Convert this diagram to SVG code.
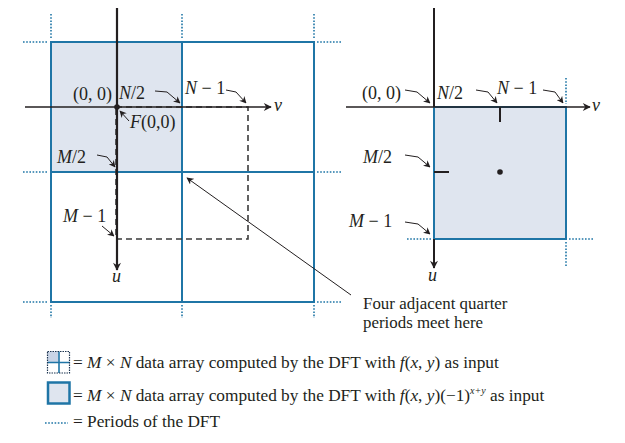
<svg xmlns="http://www.w3.org/2000/svg" width="625" height="443" viewBox="0 0 625 443">
<style>
text{font-family:"Liberation Serif","Times New Roman",serif;font-size:18px;fill:#231f20}
.i{font-style:italic}
.lg{font-size:17.3px}
.nt{font-size:16.9px}
.blue{fill:none;stroke:#1f75a6;stroke-width:2}
.dot{fill:none;stroke:#1f75a6;stroke-width:1.6;stroke-dasharray:1.6 1.6}
.lead{fill:none;stroke:#231f20;stroke-width:1;marker-end:url(#ah)}
.axis{fill:none;stroke:#231f20;marker-end:url(#ax)}
.dash{fill:none;stroke:#3a3a3a;stroke-width:1.6;stroke-dasharray:6 4}
</style>
<defs>
<marker id="ah" viewBox="0 0 10 10" refX="9" refY="5" markerWidth="7" markerHeight="7" markerUnits="userSpaceOnUse" orient="auto"><path d="M0,0 L10,5 L0,10 L3,5 z" fill="#231f20"/></marker>
<marker id="ax" viewBox="0 0 10 10" refX="9" refY="5" markerWidth="10" markerHeight="8" markerUnits="userSpaceOnUse" orient="auto"><path d="M0,0 L10,5 L0,10 L3,5 z" fill="#231f20"/></marker>
</defs>

<g id="left-figure">
<rect x="51" y="42" width="131" height="130" fill="#dfe5ef"/>
<rect class="blue" x="51" y="42" width="263" height="260"/>
<line class="blue" x1="182" y1="42" x2="182" y2="302"/>
<line class="blue" x1="51" y1="172" x2="314" y2="172"/>
<g id="left-periods">
<path class="dot" d="M23,42H48 M317,42H341 M23,172H48 M317,172H341 M23,302H48 M317,302H341"/>
<path class="dot" d="M51,14V38 M182,14V38 M314,14V38 M51,305V318 M182,305V318 M314,305V318"/>
</g>
<rect class="dash" x="116" y="107" width="132" height="132"/>
<line class="axis" x1="25" y1="107" x2="271" y2="107" stroke-width="1.3"/>
<line class="axis" x1="117" y1="8" x2="117" y2="270" stroke-width="2.2"/>
<circle cx="117" cy="107" r="2.8" fill="#231f20"/>
<text class="i" x="274" y="111">v</text>
<text class="i" x="112" y="282">u</text>
<text x="73" y="100">(0, 0)</text>
<text x="119" y="99"><tspan class="i">N</tspan>/2</text>
<text x="185" y="94"><tspan class="i">N</tspan> − 1</text>
<text x="130" y="128"><tspan class="i">F</tspan>(0,0)</text>
<text x="57" y="163"><tspan class="i">M</tspan>/2</text>
<text x="63" y="222"><tspan class="i">M</tspan> − 1</text>
</g>

<g id="right-figure">
<rect x="434" y="107" width="132" height="132" fill="#dfe5ef" stroke="#1f75a6" stroke-width="2"/>
<path class="dot" d="M566,78V104 M566,242V266 M407,239H432 M569,239H593"/>
<line class="axis" x1="346" y1="107" x2="590" y2="107" stroke-width="1.3"/>
<line x1="434" y1="8" x2="434" y2="107" stroke="#231f20" stroke-width="2"/>
<line class="axis" x1="434" y1="239" x2="434" y2="268" stroke-width="2"/>
<line x1="500" y1="107" x2="500" y2="122" stroke="#231f20" stroke-width="2"/>
<line x1="434" y1="172" x2="449" y2="172" stroke="#231f20" stroke-width="2"/>
<circle cx="500" cy="172" r="2.8" fill="#231f20"/>
<text class="i" x="592" y="111">v</text>
<text class="i" x="428" y="281">u</text>
<text x="362" y="99">(0, 0)</text>
<text x="437" y="99"><tspan class="i">N</tspan>/2</text>
<text x="497" y="94"><tspan class="i">N</tspan> − 1</text>
<text x="363" y="163"><tspan class="i">M</tspan>/2</text>
<text x="349" y="227"><tspan class="i">M</tspan> − 1</text>
</g>

<g id="note">
<text class="nt" x="363" y="309">Four adjacent quarter</text>
<text class="nt" x="363" y="328">periods meet here</text>
</g>

<g id="connectors">
<path class="lead" d="M155,91 L167,92 L180,103"/>
<path class="lead" d="M226,90 L236,92 L246,103"/>
<path class="lead" d="M129,121 L120,111"/>
<path class="lead" d="M97,155 L107,157 L115,167"/>
<path class="lead" d="M102,226 L114,236"/>
<path class="lead" d="M405,90 L417,92 L430,103"/>
<path class="lead" d="M476,90 L488,92 L497,103"/>
<path class="lead" d="M543,90 L555,92 L563,103"/>
<path class="lead" d="M405,155 L418,157 L430,167"/>
<path class="lead" d="M405,222 L418,224 L430,234"/>
<path class="lead" d="M351,295 L187,178"/>
</g>

<g id="legend">
<rect x="47.5" y="351.5" width="11" height="11" fill="#c9d4e6"/>
<path d="M59,351.5V373 M47.5,362.5H70" stroke="#1f75a6" stroke-width="1.6" fill="none"/>
<rect x="47.5" y="351.5" width="22" height="21.5" fill="none" stroke="#1d3550" stroke-width="1.2" stroke-dasharray="1.5 1"/>
<rect x="48" y="382.5" width="21.5" height="21" fill="#dfe5ef" stroke="#1f75a6" stroke-width="2.5"/>
<line class="dot" x1="45" y1="423" x2="68" y2="423"/>
<text class="lg" x="73" y="368">= <tspan class="i">M</tspan> × <tspan class="i">N</tspan> data array computed by the DFT with <tspan class="i">f</tspan>(<tspan class="i">x</tspan>, <tspan class="i">y</tspan>) as input</text>
<text class="lg" x="73" y="401">= <tspan class="i">M</tspan> × <tspan class="i">N</tspan> data array computed by the DFT with <tspan class="i">f</tspan>(<tspan class="i">x</tspan>, <tspan class="i">y</tspan>)(−1)<tspan class="i" font-size="10" dy="-7">x+y</tspan><tspan dy="7"> as input</tspan></text>
<text class="lg" x="73" y="427">= Periods of the DFT</text>
</g>
</svg>
